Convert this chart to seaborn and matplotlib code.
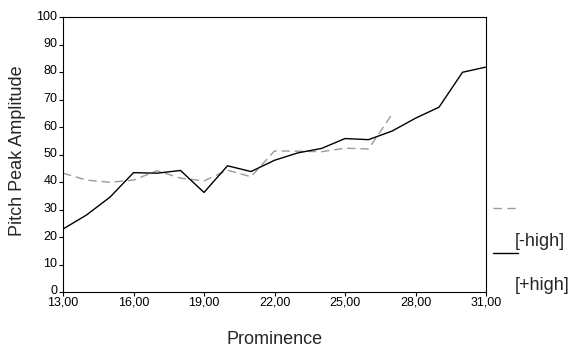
import matplotlib
matplotlib.use('Agg')
import matplotlib.pyplot as plt
import matplotlib.transforms as mtransforms
import seaborn as sns
import pandas as pd
from matplotlib.lines import Line2D

# Prominence values
prominence_plus = [13, 14, 15, 16, 17, 18, 19, 20, 21, 22, 23, 24, 25, 26, 27, 28, 29, 30, 31]
amplitude_plus = [22.9, 28.0, 34.5, 43.4, 43.2, 44.2, 36.2, 45.9, 43.8, 47.9, 50.6, 52.2,
                  55.8, 55.4, 58.5, 63.2, 67.2, 79.9, 81.8]

prominence_minus = [13, 14, 15, 16, 17, 18, 19, 20, 21, 22, 23, 24, 25, 26, 27]
amplitude_minus = [43.2, 40.7, 39.9, 40.7, 44.1, 41.4, 40.4, 44.3, 41.9, 51.3, 51.2, 51.0,
                   52.3, 52.0, 64.6]

x_ticks = [13, 16, 19, 22, 25, 28, 31]
x_ticklabels = ['13,00', '16,00', '19,00', '22,00', '25,00', '28,00', '31,00']
y_ticks = [0, 10, 20, 30, 40, 50, 60, 70, 80, 90, 100]

df = pd.concat([
    pd.DataFrame({'Prominence': prominence_minus, 'Amp': amplitude_minus, 'grupo': '[-high]'}),
    pd.DataFrame({'Prominence': prominence_plus, 'Amp': amplitude_plus, 'grupo': '[+high]'}),
])

sns.set_style('white')
plt.rcParams['font.family'] = ['Liberation Sans', 'DejaVu Sans']

fig = plt.figure(figsize=(5.7, 3.51), dpi=100)
ax = fig.add_axes([63 / 570, 1 - 292 / 351, (486 - 63) / 570, (292 - 17) / 351])

cores = {'[-high]': '#9a9a9a', '[+high]': '#000000'}
sns.lineplot(data=df, x='Prominence', y='Amp', hue='grupo', palette=cores,
             linewidth=1, legend=False, ax=ax)
ax.lines[0].set_dashes([6, 3.5])

ax.set_xlim(13, 31)
ax.set_ylim(0, 100)
ax.set_xticks(x_ticks)
ax.set_xticklabels(x_ticklabels)
ax.set_yticks(y_ticks)
ax.tick_params(axis='both', labelsize=9, width=0.8, direction='out',
               bottom=True, left=True, colors='black')
ax.tick_params(axis='x', length=3, pad=0)
ax.tick_params(axis='y', length=3, pad=1)
# rotulos do eixo y um pouco acima do tick, como no SPSS
desloc = mtransforms.ScaledTranslation(0, 2 / 100, fig.dpi_scale_trans)
for lbl in ax.get_yticklabels():
    lbl.set_transform(lbl.get_transform() + desloc)
for s in ax.spines.values():
    s.set_color('black')
    s.set_linewidth(0.8)
ax.set_xlabel('')
ax.set_ylabel('')

fig.text(275 / 570, 1 - 340 / 351, 'Prominence', ha='center', va='center', fontsize=13)
fig.text(18 / 570, 1 - 151 / 351, 'Pitch Peak Amplitude', ha='center', va='center',
         rotation=90, fontsize=13)

# legenda estilo SPSS
fig.add_artist(Line2D([493 / 570, 518 / 570], [1 - 208 / 351] * 2, color='#9a9a9a',
                      linewidth=1, dashes=[6, 4]))
fig.text(515 / 570, 1 - 241 / 351, '[-high]', ha='left', va='center', fontsize=13)
fig.add_artist(Line2D([493 / 570, 518 / 570], [1 - 253 / 351] * 2, color='black', linewidth=1))
fig.text(515 / 570, 1 - 286 / 351, '[+high]', ha='left', va='center', fontsize=13)

fig.savefig('out.png', dpi=100, facecolor='white')
